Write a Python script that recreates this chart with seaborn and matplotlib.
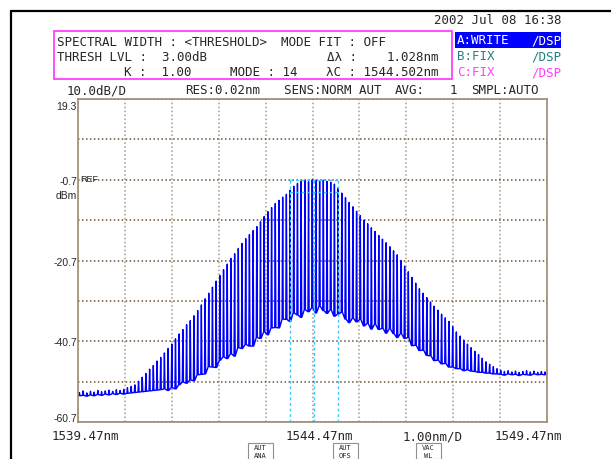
import numpy as np
import pandas as pd
import matplotlib
matplotlib.use('Agg')
import matplotlib.pyplot as plt
import seaborn as sns
from matplotlib.patches import Rectangle
from matplotlib.lines import Line2D

W, H = 611, 460

# longitudinal modes of the laser, one peak and one valley level per mode (dBm)
mode_start = 1539.50   # nm
mode_step = 0.0788     # nm
peak_dbm = [
    -53.4, -53.0, -53.5, -53.1, -53.3, -52.9, -53.2, -53.0, -52.8, -53.1, -52.7, -52.9, -52.6,
    -52.2, -51.9, -51.5, -50.6, -49.6, -48.7, -47.6, -46.7, -45.6, -44.7, -43.6, -42.5,
    -41.4, -40.1, -38.9, -37.8, -36.6, -35.6, -34.4, -33.1, -31.7, -30.2, -28.8, -27.3,
    -25.8, -24.4, -23.0, -21.6, -20.2, -19.0, -17.7, -16.5, -15.3, -14.3, -13.3, -12.3,
    -11.1, -9.8, -8.6, -7.6, -6.6, -5.8, -5.0, -4.3, -3.3, -2.3, -1.6, -1.1, -0.9, -1.2,
    -0.7, -0.8, -1.0, -0.8, -1.1, -1.3, -1.8, -2.7, -4.0, -5.1, -6.3, -7.4, -8.5, -9.6,
    -10.7, -11.6, -12.6, -13.5, -14.5, -15.4, -16.3, -17.3, -18.3, -19.3, -20.7, -22.1,
    -23.5, -24.9, -26.3, -27.7, -28.8, -29.9, -31.0, -32.0, -33.0, -34.0, -34.9, -35.8,
    -37.1, -38.4, -39.4, -40.4, -41.4, -42.3, -43.2, -44.0, -44.9, -45.8, -46.4, -47.0,
    -47.5,
    -47.9, -48.2, -48.0, -48.3, -48.1, -48.4, -48.2, -48.0, -48.3, -48.1, -48.4, -48.2, -48.3,
]
valley_dbm = [
    -54.2, -54.1, -54.3, -54.0, -54.2, -53.9, -54.1, -53.8, -54.0, -53.7, -53.9, -53.6, -53.8,
    -53.6, -53.5, -53.4, -53.3, -53.2, -53.1, -53.0, -52.9, -52.8, -52.7,
    -52.5, -52.9, -52.2, -52.5, -51.5, -50.8, -51.1, -50.3, -50.5, -49.0, -48.9, -48.8,
    -47.0, -47.1, -47.2, -45.4, -44.6, -45.0, -43.8, -44.4, -42.3, -42.5, -41.5, -41.9,
    -41.9, -39.8, -40.0, -38.4, -39.1, -37.4, -37.3, -37.4, -35.2, -35.3, -35.8, -33.7,
    -34.2, -34.8, -32.9, -33.4, -32.4, -33.7, -32.0, -33.1, -33.8, -32.9, -34.5, -34.0,
    -33.5, -35.2, -36.1, -35.0, -35.9, -35.3, -36.9, -36.3, -37.7, -36.5, -37.8, -37.5,
    -38.7, -37.6, -38.8, -39.8, -38.8, -40.0, -39.8, -41.8, -41.7, -43.0, -42.9, -44.2,
    -44.3, -45.5, -45.4, -46.3, -46.2, -47.1, -47.1, -47.5, -47.5, -48.0, -47.8, -48.1,
    -48.2, -48.4, -48.4, -48.6, -48.6, -48.8, -48.8,
    -48.9, -49.1, -48.8, -49.0, -48.9, -49.2, -48.9, -49.0, -49.1, -48.8, -49.0, -48.9, -49.0,
]

# analysis results from the header
center_wl = 1544.502
width_wl = 1.028
thresh_db = 3.00
ref_level = -0.7
x_min, x_max = 1539.47, 1549.47
y_min, y_max = -60.7, 19.3

y_labels = ['19.3', '-0.7', '-20.7', '-40.7', '-60.7']
x_labels = ['1539.47nm', '1544.47nm', '1.00nm/D', '1549.47nm']

sns.set_theme(style='white')
plt.rcParams['font.family'] = ['DejaVu Sans Mono', 'DejaVu Sans']

fig = plt.figure(figsize=(W / 100, H / 100), dpi=100)
fig.patch.set_facecolor('white')
ax = fig.add_axes([78 / W, 1 - 423 / H, 469 / W, 323 / H])

# build the trace: narrow spike at every mode
modes = mode_start + mode_step * np.arange(len(peak_dbm))
half = 0.012
wl = np.column_stack([modes - half, modes, modes + half]).ravel()
pw = np.column_stack([valley_dbm, peak_dbm, valley_dbm]).ravel()
df = pd.DataFrame({'wl': wl, 'dbm': pw})
sns.lineplot(data=df, x='wl', y='dbm', ax=ax, color='#0000ff', lw=1.0,
             sort=False, estimator=None)

ax.set_xlim(x_min, x_max)
ax.set_ylim(y_min, y_max)
ax.set_xticks(np.linspace(x_min, x_max, 11))
ax.set_yticks(np.linspace(y_min, y_max, 9))
ax.tick_params(length=0, labelbottom=False, labelleft=False)
ax.set_xlabel('')
ax.set_ylabel('')
ax.xaxis.grid(True, color='#a89888', ls=(0, (1, 1.6)), lw=1.1)
ax.yaxis.grid(True, color='#6e5236', ls=(0, (1, 1.6)), lw=1.1)
for s in ax.spines.values():
    s.set_color('#a08a70')
    s.set_linewidth(1.2)

# spectral width markers
lo, hi = center_wl - width_wl / 2, center_wl + width_wl / 2
cyan = '#3cc8ff'
ax.vlines([lo, center_wl, hi], y_min, ref_level, colors=cyan, linestyles=(0, (2, 2)), lw=1.0)
ax.hlines([ref_level, ref_level - thresh_db], lo, hi, colors=cyan, linestyles=(0, (2, 2)), lw=1.0)


def ftxt(x, y, s, **kw):
    kw.setdefault('va', 'center')
    kw.setdefault('fontsize', 9)
    fig.text(x / W, 1 - y / H, s, **kw)


# screen frame
fig.add_artist(Line2D([11 / W, 1], [1 - 12 / H, 1 - 12 / H], color='black', lw=1.6))
fig.add_artist(Line2D([11 / W, 11 / W], [1 - 12 / H, 0], color='black', lw=1.6))

ftxt(434, 21, '2002 Jul 08 16:38')

fig.add_artist(Rectangle((54 / W, 1 - 80 / H), 398 / W, 48 / H, transform=fig.transFigure,
                         fill=False, edgecolor='#ff40ff', lw=1.3))
ftxt(57, 43, 'SPECTRAL WIDTH : <THRESHOLD>')
ftxt(281, 43, 'MODE FIT : OFF')
ftxt(57, 58, 'THRESH LVL :  3.00dB')
ftxt(327, 58, 'Δλ :')
ftxt(439, 58, '1.028nm', ha='right')
ftxt(124, 73, 'K :  1.00')
ftxt(230, 73, 'MODE : 14')
ftxt(326, 73, 'λC : 1544.502nm')

fig.add_artist(Rectangle((455 / W, 1 - 49 / H), 106 / W, 16 / H, transform=fig.transFigure,
                         facecolor='#0000ff', edgecolor='none'))
ftxt(457, 41, 'A:WRITE', color='white')
ftxt(561, 41, '/DSP', color='white', ha='right')
ftxt(457, 57, 'B:FIX', color='#208080')
ftxt(561, 57, '/DSP', color='#208080', ha='right')
ftxt(457, 73, 'C:FIX', color='#ff40ff')
ftxt(561, 73, '/DSP', color='#ff40ff', ha='right')

ftxt(67, 91, '10.0dB/D')
ftxt(185, 91, 'RES:0.02nm')
ftxt(284, 91, 'SENS:NORM AUT')
ftxt(395, 91, 'AVG:')
ftxt(450, 91, '1')
ftxt(471, 91, 'SMPL:AUTO')

# level labels
lab = dict(ha='right', fontsize=7.5, family='Liberation Sans')
ftxt(77, 107, y_labels[0], **lab)
ftxt(77, 182, y_labels[1], **lab)
ftxt(77, 196, 'dBm', **lab)
ftxt(77, 263, y_labels[2], **lab)
ftxt(77, 343, y_labels[3], **lab)
ftxt(77, 419, y_labels[4], **lab)
ftxt(80, 180, 'REF', fontsize=6.5, family='Liberation Sans')

# wavelength labels
ftxt(52, 437, x_labels[0])
ftxt(286, 437, x_labels[1])
ftxt(403, 437, x_labels[2])
ftxt(495, 437, x_labels[3])

# soft keys at the bottom edge
for x0, t1, t2 in [(248, 'AUT', 'ANA'), (333, 'AUT', 'OFS'), (416, 'VAC', 'WL')]:
    fig.add_artist(Rectangle((x0 / W, 0), 25 / W, 16 / H, transform=fig.transFigure,
                             fill=False, edgecolor='#909090', lw=0.8))
    ftxt(x0 + 12.5, 448.5, t1, ha='center', fontsize=5)
    ftxt(x0 + 12.5, 456, t2, ha='center', fontsize=5)

fig.savefig('out.png', dpi=100)
